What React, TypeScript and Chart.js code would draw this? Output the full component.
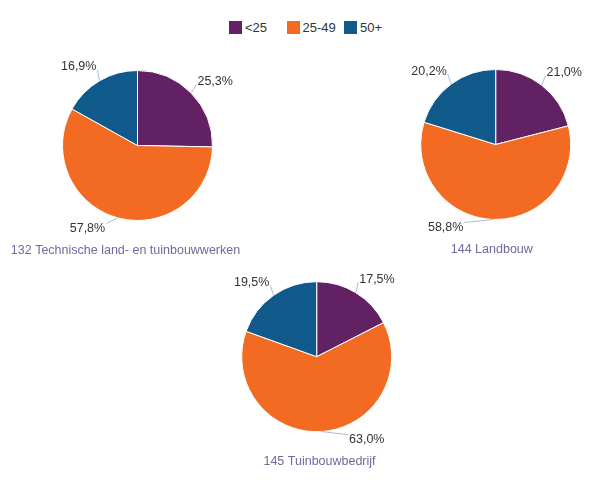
import React, { useEffect, useRef } from "react";
import { Chart, registerables } from "chart.js";

Chart.register(...registerables);

const categories = ["<25", "25-49", "50+"];
const colors = ["#622163", "#f36b22", "#105a8b"];
const pieTitles = [
  "132 Technische land- en tuinbouwwerken",
  "144 Landbouw",
  "145 Tuinbouwbedrijf",
];
const pie132 = [25.3, 57.8, 16.9];
const pie144 = [21.0, 58.8, 20.2];
const pie145 = [17.5, 63.0, 19.5];
const pieValues = [pie132, pie144, pie145];

// layout: pie centre and title anchor
const pieLayout = [
  { cx: 137.5, cy: 145.5, tx: 125.5, ty: 251 },
  { cx: 495.7, cy: 144.5, tx: 491.8, ty: 250 },
  { cx: 316.7, cy: 356.7, tx: 319.5, ty: 461.7 },
];

const W = 611;
const H = 480;
const RADIUS = 75;
const FONT = '"Liberation Sans", Arial, sans-serif';

const fmt = (v: number) => v.toFixed(1).replace(".", ",") + "%";

const outsideLabels = {
  id: "outsideLabels",
  afterDatasetsDraw(chart: any) {
    const ctx = chart.ctx;
    const meta = chart.getDatasetMeta(0);
    const data = chart.data.datasets[0].data as number[];
    ctx.save();
    ctx.font = `12.5px ${FONT}`;
    meta.data.forEach((arc: any, i: number) => {
      const { x, y, startAngle, endAngle, outerRadius } = arc.getProps(
        ["x", "y", "startAngle", "endAngle", "outerRadius"],
        true
      );
      const mid = (startAngle + endAngle) / 2;
      const c = Math.cos(mid);
      const s = Math.sin(mid);
      const R = outerRadius + 16;
      let ly = y + R * s;
      ly = Math.max(y - outerRadius - 30, Math.min(y + outerRadius + 8, ly));
      const dy = ly - y;
      const dx = Math.sqrt(Math.max(R * R - dy * dy, 0)) - 5;
      const right = c >= 0;
      const lx = right ? x + dx : x - dx;
      const ex = x + outerRadius * c;
      const ey = y + outerRadius * s;
      const endX = lx + (right ? -1 : 1);
      const endY = ly + (dy > 0 ? -5 : 3);
      ctx.strokeStyle = "#a9bcd9";
      ctx.lineWidth = 1;
      ctx.beginPath();
      ctx.moveTo(ex, ey);
      ctx.lineTo(endX, endY);
      ctx.stroke();
      ctx.fillStyle = "#333333";
      ctx.textAlign = right ? "left" : "right";
      ctx.textBaseline = "middle";
      ctx.fillText(fmt(data[i]), lx, ly);
    });
    const t = chart.options.plugins.pieTitle;
    if (t) {
      ctx.fillStyle = "#6e6a9a";
      ctx.textAlign = "center";
      ctx.textBaseline = "middle";
      ctx.font = `12.5px ${FONT}`;
      ctx.fillText(t.text, t.x, t.y);
    }
    ctx.restore();
  },
};

function PieCanvas({ idx }: { idx: number }) {
  const ref = useRef<HTMLCanvasElement>(null);
  useEffect(() => {
    if (!ref.current) return;
    const L = pieLayout[idx];
    const h = RADIUS + 4;
    const chart = new Chart(ref.current, {
      type: "pie",
      data: {
        labels: categories,
        datasets: [
          {
            data: pieValues[idx],
            backgroundColor: colors,
            borderColor: "#ffffff",
            borderWidth: 1,
          },
        ],
      },
      options: {
        responsive: false,
        animation: false,
        radius: RADIUS,
        layout: {
          padding: {
            left: L.cx - h,
            right: W - L.cx - h,
            top: L.cy - h,
            bottom: H - L.cy - h,
          },
        },
        plugins: {
          legend: { display: false },
          tooltip: { enabled: false },
          title: { display: false },
          // @ts-ignore
          pieTitle: { text: pieTitles[idx], x: L.tx, y: L.ty },
        },
      } as any,
      plugins: [outsideLabels],
    });
    return () => chart.destroy();
  }, [idx]);
  return (
    <canvas
      ref={ref}
      width={W}
      height={H}
      style={{ position: "absolute", left: 0, top: 0, width: W, height: H }}
    />
  );
}

export default function App() {
  return (
    <div
      style={{
        position: "absolute",
        left: 0,
        top: 0,
        width: W,
        height: H,
        background: "#ffffff",
        overflow: "hidden",
      }}
    >
      <div
        style={{
          position: "absolute",
          left: 229,
          top: 21,
          display: "flex",
          fontFamily: FONT,
          fontSize: 13,
          color: "#333333",
          lineHeight: "13px",
        }}
      >
        {categories.map((c, i) => (
          <div
            key={c}
            style={{ width: 57.5, display: "flex", alignItems: "center" }}
          >
            <span
              style={{
                display: "inline-block",
                width: 13,
                height: 13,
                background: colors[i],
                marginRight: 3,
              }}
            />
            <span>{c}</span>
          </div>
        ))}
      </div>
      {pieValues.map((_, i) => (
        <PieCanvas key={i} idx={i} />
      ))}
    </div>
  );
}
